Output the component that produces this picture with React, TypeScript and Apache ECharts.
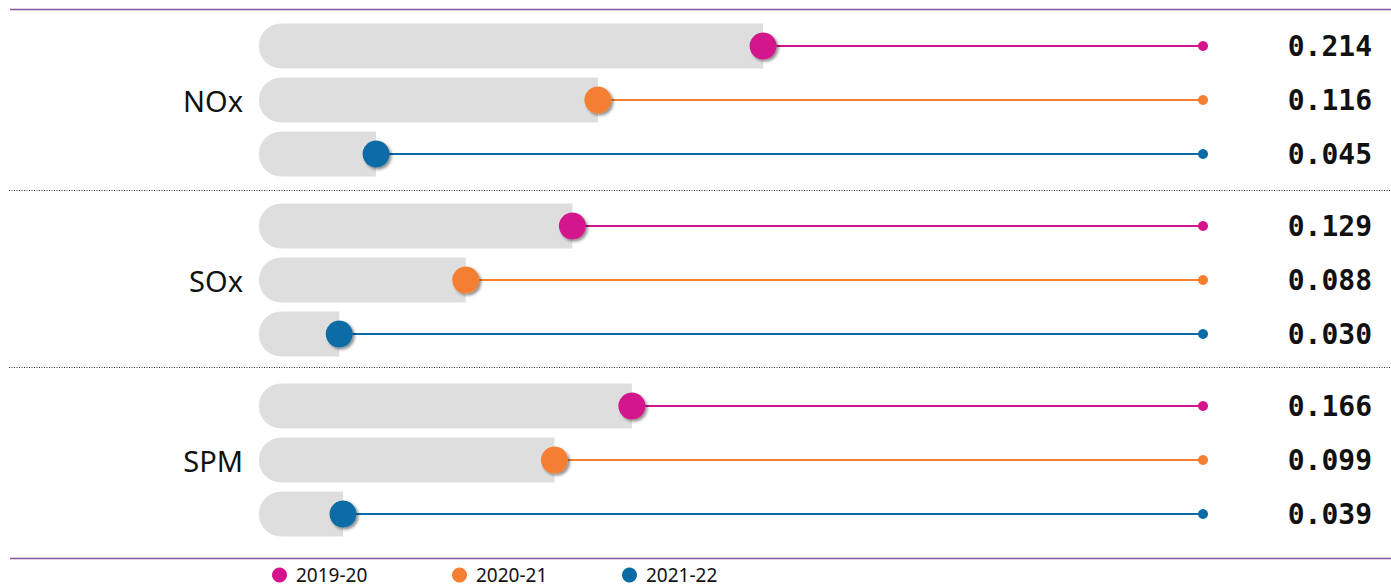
import React, { useEffect, useRef } from "react";
import * as echarts from "echarts";

const pollutants = ["NOx", "SOx", "SPM"];
const years = ["2019-20", "2020-21", "2021-22"];
const yearColors = ["#d4138c", "#f47f30", "#0a6ca6"];
// displayed values
const noxValues = [0.214, 0.116, 0.045];
const soxValues = [0.129, 0.088, 0.03];
const spmValues = [0.166, 0.099, 0.039];
// marker position along the track (percent), as drawn in the picture
const noxPos = [53.4, 35.9, 12.4];
const soxPos = [33.2, 21.9, 8.5];
const spmPos = [39.5, 31.3, 8.9];

const valuesByGroup = [noxValues, soxValues, spmValues];
const posByGroup = [noxPos, soxPos, spmPos];

const gridTops = [19, 199, 379];
const GRID_LEFT = 259;
const GRID_WIDTH = 944;
const GRID_HEIGHT = 162;

export default function App() {
  const ref = useRef<HTMLDivElement>(null);
  useEffect(() => {
    if (!ref.current) return;
    const chart = echarts.init(ref.current, null, { renderer: "svg" });

    const grids: any[] = [];
    const xAxes: any[] = [];
    const yAxes: any[] = [];
    const series: any[] = [];

    pollutants.forEach((name, g) => {
      grids.push({ left: GRID_LEFT, width: GRID_WIDTH, top: gridTops[g], height: GRID_HEIGHT });
      xAxes.push({ type: "value", gridIndex: g, min: 0, max: 100, show: false });
      yAxes.push({
        type: "category",
        gridIndex: g,
        data: years,
        inverse: true,
        axisLine: { show: false },
        axisTick: { show: false },
        splitLine: { show: false },
        axisLabel: {
          margin: 16,
          fontSize: 29,
          fontFamily: "Noto Sans",
          color: "#111",
          formatter: (_v: string, idx: number) => (idx === 1 ? name : ""),
        },
      });
      series.push({
        type: "bar",
        xAxisIndex: g,
        yAxisIndex: g,
        data: posByGroup[g],
        barWidth: 45,
        silent: true,
        itemStyle: { color: "#dedede", borderRadius: [22, 0, 0, 22] },
        z: 1,
      });
      years.forEach((yr, k) => {
        const color = yearColors[k];
        series.push({
          type: "custom",
          name: yr,
          xAxisIndex: g,
          yAxisIndex: g,
          color,
          z: 5,
          data: [[posByGroup[g][k], k, valuesByGroup[g][k]]],
          encode: { x: 0, y: 1 },
          renderItem: (_params: any, api: any) => {
            const p = api.coord([api.value(0), api.value(1)]);
            const e = api.coord([100, api.value(1)]);
            const v = api.value(2);
            return {
              type: "group",
              children: [
                {
                  type: "line",
                  shape: { x1: p[0], y1: p[1], x2: e[0], y2: e[1] },
                  style: { stroke: color, lineWidth: 2 },
                },
                {
                  type: "circle",
                  shape: { cx: e[0], cy: e[1], r: 5 },
                  style: { fill: color },
                },
                {
                  type: "circle",
                  shape: { cx: p[0], cy: p[1], r: 13.5 },
                  style: {
                    fill: color,
                    shadowBlur: 3,
                    shadowOffsetX: 2,
                    shadowOffsetY: 2,
                    shadowColor: "rgba(0,0,0,0.45)",
                  },
                },
                {
                  type: "text",
                  x: e[0] + 169,
                  y: e[1],
                  style: {
                    text: Number(v).toFixed(3),
                    fill: "#111",
                    fontFamily: "DejaVu Sans Mono",
                    fontWeight: "bold",
                    fontSize: 28,
                    textAlign: "right",
                    textVerticalAlign: "middle",
                  },
                },
              ],
            };
          },
        });
      });
    });

    const legendLefts = [272, 452, 622];
    const legends = years.map((yr, k) => ({
      data: [{ name: yr, itemStyle: { color: yearColors[k] } }],
      left: legendLefts[k],
      top: 564,
      padding: 0,
      icon: "circle",
      itemWidth: 15,
      itemHeight: 15,
      selectedMode: false,
      textStyle: {
        fontSize: 19,
        lineHeight: 22,
        fontFamily: "Noto Sans",
        color: "#111",
        padding: [0, 0, 0, 4],
      },
    }));

    chart.setOption({
      animation: false,
      backgroundColor: "#ffffff",
      grid: grids,
      xAxis: xAxes,
      yAxis: yAxes,
      legend: legends,
      series,
      graphic: [
        {
          type: "line",
          shape: { x1: 10, y1: 9.5, x2: 1391, y2: 9.5 },
          style: { stroke: "#8358a0", lineWidth: 1.5 },
        },
        {
          type: "line",
          shape: { x1: 10, y1: 558.5, x2: 1391, y2: 558.5 },
          style: { stroke: "#8358a0", lineWidth: 1.5 },
        },
        {
          type: "line",
          shape: { x1: 9, y1: 190.5, x2: 1391, y2: 190.5 },
          style: { stroke: "#333", lineWidth: 1, lineDash: [1, 1.5] },
        },
        {
          type: "line",
          shape: { x1: 9, y1: 367.5, x2: 1391, y2: 367.5 },
          style: { stroke: "#333", lineWidth: 1, lineDash: [1, 1.5] },
        },
      ],
    });
    return () => chart.dispose();
  }, []);
  return (
    <div
      ref={ref}
      style={{ position: "fixed", left: 0, top: 0, width: 1391, height: 587, background: "#fff" }}
    />
  );
}
